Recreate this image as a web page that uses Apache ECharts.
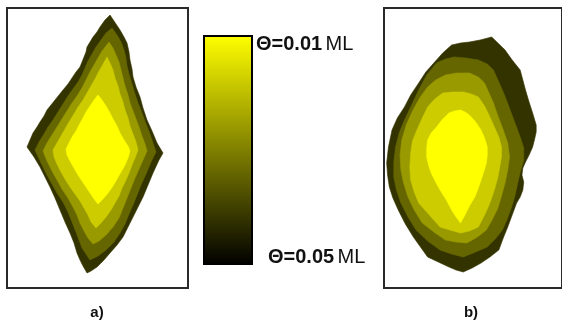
<!DOCTYPE html>
<html>
<head>
<meta charset="utf-8">
<script src="https://cdn.jsdelivr.net/npm/echarts@6/dist/echarts.min.js"></script>
<style>html,body{margin:0;padding:0;background:#fff}#c{width:562px;height:324px}</style>
</head>
<body>
<div id="c"></div>
<script>
// Coverage levels (outer = thickest film edge, inner = thinnest), colours of each band
const levelColors = ['#333300', '#666600', '#999900', '#cccc00', '#ffff00'];
const panelLabels = ['a)', 'b)'];
const colorbarLabels = ['Θ=0.01', 'Θ=0.05'];
const colorbarUnit = 'ML';

// Panel a contours (frame coordinates)
const aDark = [[110,15],[114,21],[120,30],[124,37],[127,43],[129,52],[130,60],[132,69],[133,77],[136,87],[140,97],[143,108],[147,120],[152,131],[157,143],[160,148],[163,153],[159,160],[153,173],[148,185],[143,197],[138,207],[133,217],[128,227],[123,237],[117,245],[110,253],[104,260],[97,267],[91,271],[87,273],[83,266],[80,260],[77,253],[74,243],[70,233],[65,222],[60,210],[55,198],[50,187],[45,177],[40,167],[34,157],[27,147],[30,140],[33,133],[37,127],[40,122],[44,116],[47,110],[51,105],[55,100],[59,95],[63,90],[68,84],[72,78],[76,72],[80,67],[82,62],[84,57],[86,52],[87,47],[90,42],[93,37],[97,32],[100,27],[105,20]];
const aOlive = [[112,28],[117,35],[121,42],[124,50],[126,58],[127,66],[129,74],[132,84],[135,94],[138,103],[142,113],[146,124],[150,134],[153,143],[156,152],[151,162],[146,174],[141,185],[137,195],[133,205],[129,214],[125,224],[120,233],[114,242],[106,250],[98,256],[90,260],[86,254],[82,248],[79,240],[76,232],[72,222],[68,212],[63,202],[57,193],[52,184],[47,175],[41,163],[35,150],[39,142],[44,134],[48,127],[53,120],[58,112],[63,104],[68,96],[73,89],[78,82],[82,75],[85,68],[88,61],[92,54],[96,47],[101,40],[106,33]];
const aMid = [[109,42],[113,48],[116,55],[119,62],[121,70],[123,78],[125,86],[128,95],[130,103],[133,111],[136,119],[139,127],[142,136],[145,144],[147,151],[143,160],[139,169],[135,178],[131,188],[127,198],[123,208],[119,218],[113,227],[106,235],[99,241],[93,244],[88,238],[84,231],[80,223],[77,215],[73,207],[68,198],[62,189],[57,180],[52,171],[47,161],[43,151],[47,143],[52,135],[57,127],[62,119],[67,111],[72,103],[77,96],[82,88],[86,80],[90,72],[94,65],[98,58],[102,51]];
const aLight = [[107,57],[110,63],[113,70],[115,78],[118,86],[120,94],[123,102],[125,110],[128,118],[130,126],[133,134],[136,142],[138,150],[135,158],[132,165],[129,173],[126,180],[122,188],[119,196],[115,203],[111,210],[106,217],[101,223],[96,228],[91,222],[88,215],[84,208],[80,201],[75,194],[70,187],[65,179],[61,172],[57,164],[54,157],[53,150],[57,143],[61,136],[65,129],[69,122],[74,114],[78,107],[83,100],[87,93],[91,86],[95,79],[98,73],[102,66]];
const aYellow = [[98,95],[102,100],[106,106],[110,113],[113,119],[117,126],[120,133],[124,140],[128,146],[130,151],[128,158],[125,165],[121,172],[117,179],[113,186],[108,193],[103,199],[98,204],[94,199],[90,193],[86,187],[82,181],[78,175],[74,168],[70,161],[67,155],[66,149],[69,143],[72,137],[76,131],[79,125],[83,118],[86,112],[90,106],[94,100]];

// Panel b contours (frame coordinates)
const bDark = [[460,45],[470,43],[480,42],[492,40],[505,37],[512,43],[520,50],[528,60],[537,70],[540,80],[543,90],[547,102],[551,113],[555,125],[555,132],[553,140],[551,147],[547,155],[543,162],[540,168],[539,175],[541,182],[540,190],[537,197],[533,203],[528,215],[523,227],[518,238],[513,250],[503,257],[493,263],[483,268],[473,272],[465,270],[457,267],[445,262],[433,257],[425,247],[417,237],[408,224],[400,210],[394,198],[390,187],[388,175],[387,163],[389,147],[393,130],[399,118],[407,107],[414,95],[423,83],[431,72],[440,63],[450,53]];
const bOlive = [[443,63],[453,59],[463,57],[476,58],[490,60],[500,64],[507,70],[512,80],[517,90],[522,101],[527,113],[532,125],[537,137],[541,148],[541,160],[537,172],[534,184],[531,196],[527,208],[522,220],[517,230],[509,239],[500,247],[487,252],[473,257],[460,254],[447,250],[433,241],[420,230],[411,217],[403,203],[398,190],[395,177],[395,162],[397,147],[401,133],[407,120],[415,105],[423,90],[432,75]];
const bMid = [[433,87],[442,80],[453,75],[466,73],[480,73],[490,77],[497,83],[502,93],[507,103],[512,116],[518,130],[523,143],[525,157],[523,170],[520,183],[516,196],[512,208],[506,219],[499,230],[489,237],[477,243],[465,242],[453,240],[440,232],[427,223],[418,210],[411,197],[406,183],[403,170],[402,155],[404,140],[409,125],[416,111],[424,98]];
const bLight = [[450,93],[461,92],[473,92],[482,94],[490,97],[497,106],[503,117],[508,127],[513,137],[516,147],[516,157],[514,167],[512,177],[508,190],[503,203],[497,215],[490,227],[480,231],[470,233],[458,230],[447,227],[435,215],[423,203],[418,192],[414,180],[413,167],[414,153],[416,141],[421,130],[427,118],[433,107],[441,99]];
const bYellow = [[457,113],[463,111],[470,110],[475,112],[480,115],[487,122],[493,130],[497,138],[500,147],[500,155],[499,163],[496,172],[493,180],[490,188],[486,197],[480,206],[475,215],[470,223],[465,217],[460,210],[454,200],[447,190],[442,182],[437,173],[434,165],[432,157],[432,148],[433,140],[437,133],[443,127],[450,119]];

const panelA = [aDark, aOlive, aMid, aLight, aYellow];
const panelB = [bDark, bOlive, bMid, bLight, bYellow];

function contourSeries(contour, color, idx) {
  return {
    type: 'custom',
    coordinateSystem: 'cartesian2d',
    xAxisIndex: idx, yAxisIndex: idx,
    data: contour,
    silent: true,
    animation: false,
    renderItem: function (params, api) {
      if (params.dataIndex !== 0) return null;
      return {
        type: 'polygon',
        shape: { points: contour.map(function (p) { return api.coord(p); }) },
        style: { fill: color, stroke: color, lineWidth: 0.6 }
      };
    }
  };
}

const series = [];
panelA.forEach(function (c, i) { series.push(contourSeries(c, levelColors[i], 0)); });
panelB.forEach(function (c, i) { series.push(contourSeries(c, levelColors[i], 1)); });

const chart = echarts.init(document.getElementById('c'), null, { renderer: 'canvas' });
const FF = '"Liberation Sans", Arial, sans-serif';
chart.setOption({
  backgroundColor: '#ffffff',
  animation: false,
  grid: [
    { left: 7, top: 8, width: 181, height: 280, show: true, borderColor: '#2a2a2a', borderWidth: 2, backgroundColor: '#fff' },
    { left: 384, top: 8, width: 200, height: 280, show: true, borderColor: '#2a2a2a', borderWidth: 2, backgroundColor: '#fff' }
  ],
  xAxis: [
    { type: 'value', gridIndex: 0, min: 7, max: 188, show: false },
    { type: 'value', gridIndex: 1, min: 384, max: 584, show: false }
  ],
  yAxis: [
    { type: 'value', gridIndex: 0, min: 8, max: 288, inverse: true, show: false },
    { type: 'value', gridIndex: 1, min: 8, max: 288, inverse: true, show: false }
  ],
  series: series,
  graphic: [
    { type: 'rect', shape: { x: 204, y: 36, width: 48, height: 228 },
      style: { fill: new echarts.graphic.LinearGradient(0, 0, 0, 1, [
        { offset: 0, color: '#ffff00' }, { offset: 1, color: '#000000' }]),
        stroke: '#000', lineWidth: 2 } },
    { type: 'text', x: 256, y: 44, style: { text: '{b|' + colorbarLabels[0] + '} {n|' + colorbarUnit + '}', verticalAlign: 'middle',
        rich: { b: { fontFamily: FF, fontSize: 20, fontWeight: 'bold', fill: '#111' }, n: { fontFamily: FF, fontSize: 20, fill: '#111' } } } },
    { type: 'text', x: 268, y: 257, style: { text: '{b|' + colorbarLabels[1] + '} {n|' + colorbarUnit + '}', verticalAlign: 'middle',
        rich: { b: { fontFamily: FF, fontSize: 20, fontWeight: 'bold', fill: '#111' }, n: { fontFamily: FF, fontSize: 20, fill: '#111' } } } },
    { type: 'text', x: 97, y: 313, style: { text: panelLabels[0], align: 'center', verticalAlign: 'middle', fontFamily: FF, fontSize: 15, fontWeight: 'bold', fill: '#111' } },
    { type: 'text', x: 471, y: 313, style: { text: panelLabels[1], align: 'center', verticalAlign: 'middle', fontFamily: FF, fontSize: 15, fontWeight: 'bold', fill: '#111' } }
  ]
});
</script>
</body>
</html>
